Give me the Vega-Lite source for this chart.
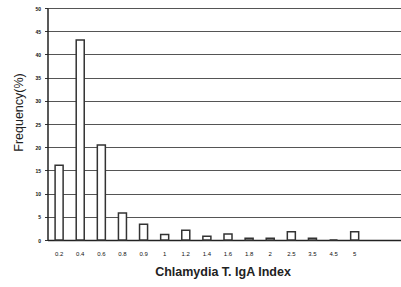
{
  "$schema": "https://vega.github.io/schema/vega-lite/v6.json",
  "width": 361,
  "height": 232,
  "autosize": "none",
  "padding": {"left": 47.5, "top": 8, "right": 0, "bottom": 47},
  "background": "white",
  "data": {"values": [
    {"index": "0.2", "freq": 16.1},
    {"index": "0.4", "freq": 43.1},
    {"index": "0.6", "freq": 20.5},
    {"index": "0.8", "freq": 5.8},
    {"index": "0.9", "freq": 3.4},
    {"index": "1", "freq": 1.2},
    {"index": "1.2", "freq": 2.1},
    {"index": "1.4", "freq": 0.8},
    {"index": "1.6", "freq": 1.3},
    {"index": "1.8", "freq": 0.4},
    {"index": "2", "freq": 0.4},
    {"index": "2.5", "freq": 1.8},
    {"index": "3.5", "freq": 0.4},
    {"index": "4.5", "freq": 0},
    {"index": "5", "freq": 1.8}
  ]},
  "mark": {"type": "bar", "fill": "white", "stroke": "#333333", "strokeWidth": 1.5},
  "encoding": {
    "x": {
      "field": "index", "type": "nominal", "sort": null,
      "scale": {"domain": ["0.2","0.4","0.6","0.8","0.9","1","1.2","1.4","1.6","1.8","2","2.5","3.5","4.5","5","e1","e2"], "paddingInner": 0.62, "paddingOuter": 0.36},
      "axis": {
        "title": "Chlamydia T. IgA Index", "labelAngle": 0, "ticks": false,
        "labelExpr": "indexof(['e1','e2'], datum.value) >= 0 ? '' : datum.label",
        "labelFontSize": 6, "labelFont": "Liberation Sans", "labelColor": "#111", "labelPadding": 10,
        "titleFont": "Liberation Sans", "titleFontSize": 12.5, "titleFontWeight": "bold", "titleColor": "#222",
        "titleX": 175, "titlePadding": 9,
        "domainColor": "#222", "domainWidth": 1.5
      }
    },
    "y": {
      "field": "freq", "type": "quantitative",
      "scale": {"domain": [0, 50], "nice": false},
      "axis": {
        "title": "Frequency(%)", "values": [0,5,10,15,20,25,30,35,40,45,50],
        "grid": true, "gridColor": "#555", "gridWidth": 1,
        "tickColor": "#333", "tickSize": 3,
        "labelFontSize": 5, "labelFont": "Liberation Sans", "labelFontWeight": "bold", "labelColor": "#111", "labelPadding": 4,
        "titleFont": "Liberation Sans", "titleFontSize": 12.5, "titleFontWeight": "normal", "titleColor": "#222",
        "titleY": 104, "titlePadding": 9,
        "domainColor": "#222", "domainWidth": 1.5
      }
    }
  },
  "config": {"view": {"stroke": null}}
}
